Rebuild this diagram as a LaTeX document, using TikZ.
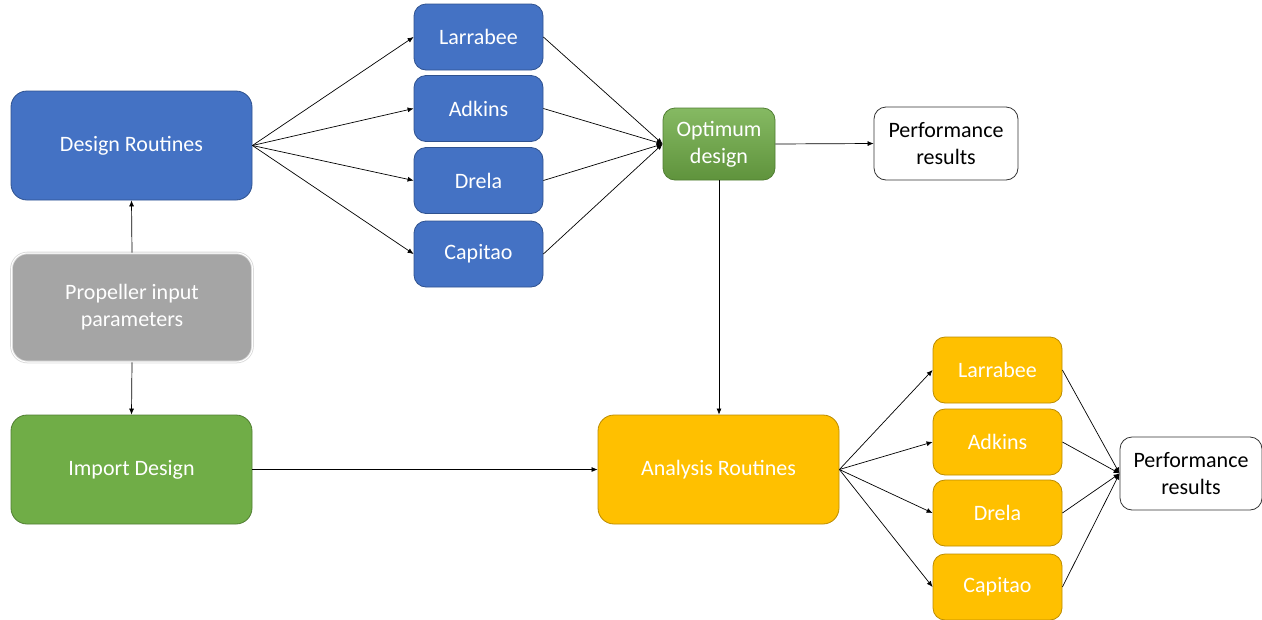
\documentclass[tikz,border=0pt]{standalone}
\usepackage{fontspec}
\setmainfont{Carlito}
\usetikzlibrary{arrows.meta}
\definecolor{cblue}{HTML}{4472C4}
\definecolor{cbluedk}{HTML}{2F528F}
\definecolor{cgreen}{HTML}{70AD47}
\definecolor{cgreendk}{HTML}{507E32}
\definecolor{cyellow}{HTML}{FFC000}
\definecolor{cyellowdk}{HTML}{BC8C00}
\definecolor{cgray}{HTML}{A5A5A5}
\begin{document}
\begin{tikzpicture}[x=1pt,y=-1pt,
  box/.style={rectangle,rounded corners=12pt,text=white,font=\fontsize{22}{27}\selectfont,align=center,inner sep=0pt,line width=0.8pt},
  bluebox/.style={box,fill=cblue,draw=cbluedk,minimum width=129pt,minimum height=66pt},
  yelbox/.style={box,fill=cyellow,draw=cyellowdk,minimum width=129pt,minimum height=66pt},
  bigbox/.style={box,minimum width=241pt,minimum height=109pt,rounded corners=16pt},
  resbox/.style={box,fill=white,draw=black!80,text=black,minimum width=144pt,minimum height=73pt},
  arr/.style={-{Latex[length=6pt,width=5pt]},line width=0.7pt,black}]
\useasboundingbox (0,0) rectangle (1262,619);
\node[bigbox,fill=cblue,draw=cbluedk] (dr) at (131.5,145.5) {Design Routines};
\node[bigbox,fill=cgray,draw=black!15,double=white,double distance=1pt] (pi) at (132,307.5) {Propeller input\\parameters};
\node[bigbox,fill=cgreen,draw=cgreendk] (id) at (131.5,469.5) {Import Design};
\node[bluebox] (b1) at (478.5,37) {Larrabee};
\node[bluebox] (b2) at (478.5,108.5) {Adkins};
\node[bluebox] (b3) at (478.5,180.5) {Drela};
\node[bluebox] (b4) at (478.5,254) {Capitao};
\node[box,top color=cgreen!85!white,bottom color=cgreen!85!black,draw=cgreendk,minimum width=112pt,minimum height=72pt] (od) at (719,144) {Optimum\\design};
\node[resbox] (pr1) at (946,143.5) {Performance\\results};
\node[bigbox,fill=cyellow,draw=cyellowdk] (ar) at (718.5,469.5) {Analysis Routines};
\node[yelbox] (y1) at (997.5,370) {Larrabee};
\node[yelbox] (y2) at (997.5,442) {Adkins};
\node[yelbox] (y3) at (997.5,513) {Drela};
\node[yelbox] (y4) at (997.5,587) {Capitao};
\node[resbox,minimum width=142pt] (pr2) at (1191,473.5) {Performance\\results};
% connectors
\draw[arr] (pi.north) -- (dr.south);
\draw[arr] (pi.south) -- (id.north);
\foreach \b in {b1,b2,b3,b4}{
  \draw[arr] (dr.east) -- (\b.west);
  \draw[arr] (\b.east) -- (od.west);
}
\draw[arr] (od.east) -- (pr1.west);
\draw[arr] (od.south) -- (od.south |- ar.north);
\draw[arr] (id.east) -- (ar.west);
\foreach \b in {y1,y2,y3,y4}{
  \draw[arr] (ar.east) -- (\b.west);
  \draw[arr] (\b.east) -- (pr2.west);
}
\end{tikzpicture}
\end{document}
